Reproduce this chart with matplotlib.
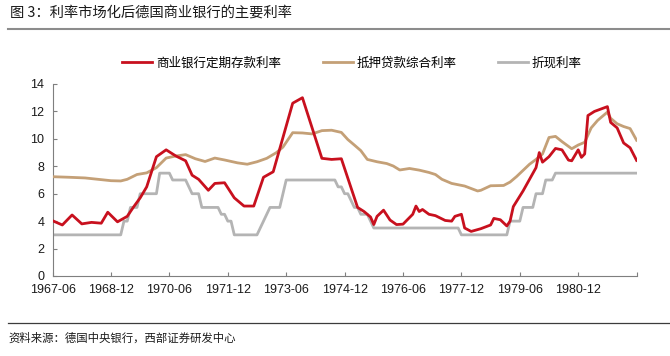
import numpy as np
import pandas as pd
import matplotlib
matplotlib.use('Agg')
import matplotlib.pyplot as plt
from matplotlib.lines import Line2D

plt.rcParams['font.family'] = ['Noto Sans CJK SC', 'DejaVu Sans']

# data (monthly, keypoints where the lines bend)
deposit_dates = ['1967-06', '1967-09', '1967-12', '1968-03', '1968-06', '1968-09', '1968-11',
                 '1969-02', '1969-05', '1969-07', '1969-09', '1969-11', '1970-02', '1970-05',
                 '1970-08', '1970-11', '1971-01', '1971-03', '1971-06', '1971-08', '1971-11',
                 '1972-02', '1972-05', '1972-08', '1972-11', '1973-02', '1973-08', '1973-11',
                 '1974-05', '1974-08', '1974-11', '1975-04', '1975-06', '1975-08', '1975-09',
                 '1975-10', '1975-12', '1976-02', '1976-04', '1976-06', '1976-09', '1976-10',
                 '1976-11', '1976-12', '1977-02', '1977-04', '1977-07', '1977-09', '1977-10',
                 '1977-12', '1978-01', '1978-03', '1978-06', '1978-09', '1978-10', '1978-12',
                 '1979-02', '1979-03', '1979-04', '1979-07', '1979-09', '1979-11', '1979-12',
                 '1980-01', '1980-03', '1980-05', '1980-07', '1980-09', '1980-10', '1980-12',
                 '1981-01', '1981-02', '1981-03', '1981-05', '1981-09', '1981-10', '1981-12',
                 '1982-02', '1982-04', '1982-06']
deposit_rate = [4.03, 3.72, 4.45, 3.80, 3.91, 3.85, 4.65,
                3.95, 4.35, 5.05, 5.70, 6.50, 8.70, 9.20,
                8.75, 8.40, 7.35, 7.05, 6.25, 6.75, 6.80,
                5.70, 5.10, 5.10, 7.20, 7.60, 12.60, 13.00,
                8.58, 8.50, 8.55, 5.00, 4.70, 4.30, 3.75,
                4.35, 4.80, 4.08, 3.75, 3.78, 4.50, 5.10,
                4.70, 4.85, 4.50, 4.40, 4.05, 4.00, 4.35,
                4.50, 3.50, 3.25, 3.45, 3.72, 4.20, 4.10,
                3.65, 4.00, 5.06, 6.20, 7.05, 7.90, 9.00,
                8.30, 8.70, 9.30, 9.20, 8.45, 8.40, 9.20,
                8.65, 8.90, 11.70, 12.00, 12.35, 11.20, 10.80,
                9.70, 9.35, 8.43]

mortgage_dates = ['1967-06', '1967-11', '1968-04', '1968-08', '1968-12', '1969-03', '1969-05',
                  '1969-08', '1969-11', '1970-02', '1970-05', '1970-08', '1970-11', '1971-02',
                  '1971-05', '1971-08', '1971-11', '1972-03', '1972-06', '1972-09', '1972-12',
                  '1973-03', '1973-05', '1973-08', '1973-11', '1974-02', '1974-05', '1974-08',
                  '1974-11', '1975-01', '1975-03', '1975-05', '1975-07', '1975-10', '1976-01',
                  '1976-03', '1976-05', '1976-08', '1976-11', '1977-02', '1977-04', '1977-06',
                  '1977-09', '1978-01', '1978-05', '1978-06', '1978-09', '1979-01', '1979-03',
                  '1979-05', '1979-09', '1979-11', '1980-01', '1980-03', '1980-05', '1980-07',
                  '1980-10', '1980-12', '1981-02', '1981-04', '1981-06', '1981-09', '1981-10',
                  '1981-12', '1982-02', '1982-04', '1982-06']
mortgage_rate = [7.24, 7.20, 7.15, 7.05, 6.95, 6.93, 7.05,
                 7.40, 7.52, 7.90, 8.60, 8.75, 8.85, 8.55,
                 8.35, 8.60, 8.46, 8.25, 8.15, 8.33, 8.58,
                 9.00, 9.40, 10.45, 10.43, 10.36, 10.60, 10.63,
                 10.47, 9.95, 9.55, 9.14, 8.50, 8.33, 8.20,
                 8.02, 7.73, 7.84, 7.72, 7.55, 7.40, 7.05,
                 6.75, 6.56, 6.20, 6.25, 6.58, 6.60, 6.85,
                 7.25, 8.15, 8.50, 8.90, 10.10, 10.18, 9.80,
                 9.28, 9.55, 9.75, 10.80, 11.35, 11.95, 11.50,
                 11.10, 10.90, 10.75, 9.90]

discount_dates = ['1967-06', '1969-03', '1969-04', '1969-05', '1969-06', '1969-08', '1969-09',
                  '1970-02', '1970-03', '1970-06', '1970-07', '1970-11', '1970-12', '1971-01',
                  '1971-03', '1971-04', '1971-09', '1971-10', '1971-11', '1971-12', '1972-01',
                  '1972-02', '1972-09', '1972-10', '1972-11', '1972-12', '1973-01', '1973-04',
                  '1973-05', '1973-06', '1974-09', '1974-10', '1974-11', '1974-12', '1975-01',
                  '1975-02', '1975-03', '1975-04', '1975-05', '1975-07', '1975-08', '1975-09',
                  '1977-11', '1977-12', '1979-02', '1979-03', '1979-06', '1979-07', '1979-10',
                  '1979-11', '1980-01', '1980-02', '1980-04', '1980-05', '1982-06']
discount_rate = [3.0, 3.0, 4.0, 4.0, 5.0, 5.0, 6.0,
                 6.0, 7.5, 7.5, 7.0, 7.0, 6.5, 6.0,
                 6.0, 5.0, 5.0, 4.5, 4.5, 4.0, 4.0,
                 3.0, 3.0, 3.5, 4.0, 4.5, 5.0, 5.0,
                 6.0, 7.0, 7.0, 6.5, 6.5, 6.0, 6.0,
                 5.5, 5.0, 5.0, 4.5, 4.5, 4.0, 3.5,
                 3.5, 3.0, 3.0, 4.0, 4.0, 5.0, 5.0,
                 6.0, 6.0, 7.0, 7.0, 7.5, 7.5]

tick_dates = ['1967-06', '1968-12', '1970-06', '1971-12', '1973-06', '1974-12',
              '1976-06', '1977-12', '1979-06', '1980-12', '1982-06']
tick_labels = ['1967-06', '1968-12', '1970-06', '1971-12', '1973-06', '1974-12',
               '1976-06', '1977-12', '1979-06', '1980-12', '']

names = ['商业银行定期存款利率', '抵押贷款综合利率', '折现利率']
colours = ['#c8101e', '#c4a077', '#b4b4b4']

base = pd.Period('1967-06', 'M').ordinal


def to_x(dates):
    return np.array([pd.Period(d, 'M').ordinal - base for d in dates])


W, H = 670, 356
fig = plt.figure(figsize=(W / 100, H / 100), dpi=100)
ax = fig.add_axes([52.6 / W, (H - 276) / H, 584 / W, 192 / H])

l1, = ax.plot(to_x(deposit_dates), deposit_rate, color=colours[0], lw=2.0, zorder=4)
l2, = ax.plot(to_x(mortgage_dates), mortgage_rate, color=colours[1], lw=2.0, zorder=3)
l3, = ax.plot(to_x(discount_dates), discount_rate, color=colours[2], lw=2.0, zorder=2)

ax.set_xlim(0, to_x(['1982-06'])[0])
ax.set_ylim(0, 14)
ax.set_yticks(np.arange(0, 15, 2))
ax.set_xticks(to_x(tick_dates))
ax.set_xticklabels(tick_labels)

for s in ['top', 'right']:
    ax.spines[s].set_visible(False)
for s in ['left', 'bottom']:
    ax.spines[s].set_color('#7f7f7f')
    ax.spines[s].set_linewidth(0.8)
ax.tick_params(direction='in', length=3, color='#7f7f7f', width=0.8, pad=6,
               labelsize=9, labelcolor='#1a1a1a')
for lab in ax.get_xticklabels() + ax.get_yticklabels():
    lab.set_family(['Liberation Sans', 'DejaVu Sans'])

fig.legend([l1, l2, l3], names, loc='center left', bbox_to_anchor=(122 / W, 1 - 63 / H),
           ncol=3, frameon=False, borderpad=0, borderaxespad=0, fontsize=9,
           handlelength=2.4, handletextpad=0.3, columnspacing=3.35)

# title, rules and source note
fig.text(10 / W, 1 - 13 / H, '图 3：利率市场化后德国商业银行的主要利率', fontsize=10.3,
         va='center', ha='left', color='#1a1a1a')
fig.add_artist(Line2D([8 / W, 1], [1 - 29 / H] * 2, color='#8c8c8c', lw=1.5))
fig.add_artist(Line2D([8 / W, 1], [1 - 323 / H] * 2, color='#3c3c3c', lw=0.9))
fig.text(8 / W, 1 - 338 / H, '资料来源：德国中央银行，西部证券研发中心', fontsize=8.2,
         va='center', ha='left', color='#1a1a1a')

fig.savefig('out.png', dpi=100)
